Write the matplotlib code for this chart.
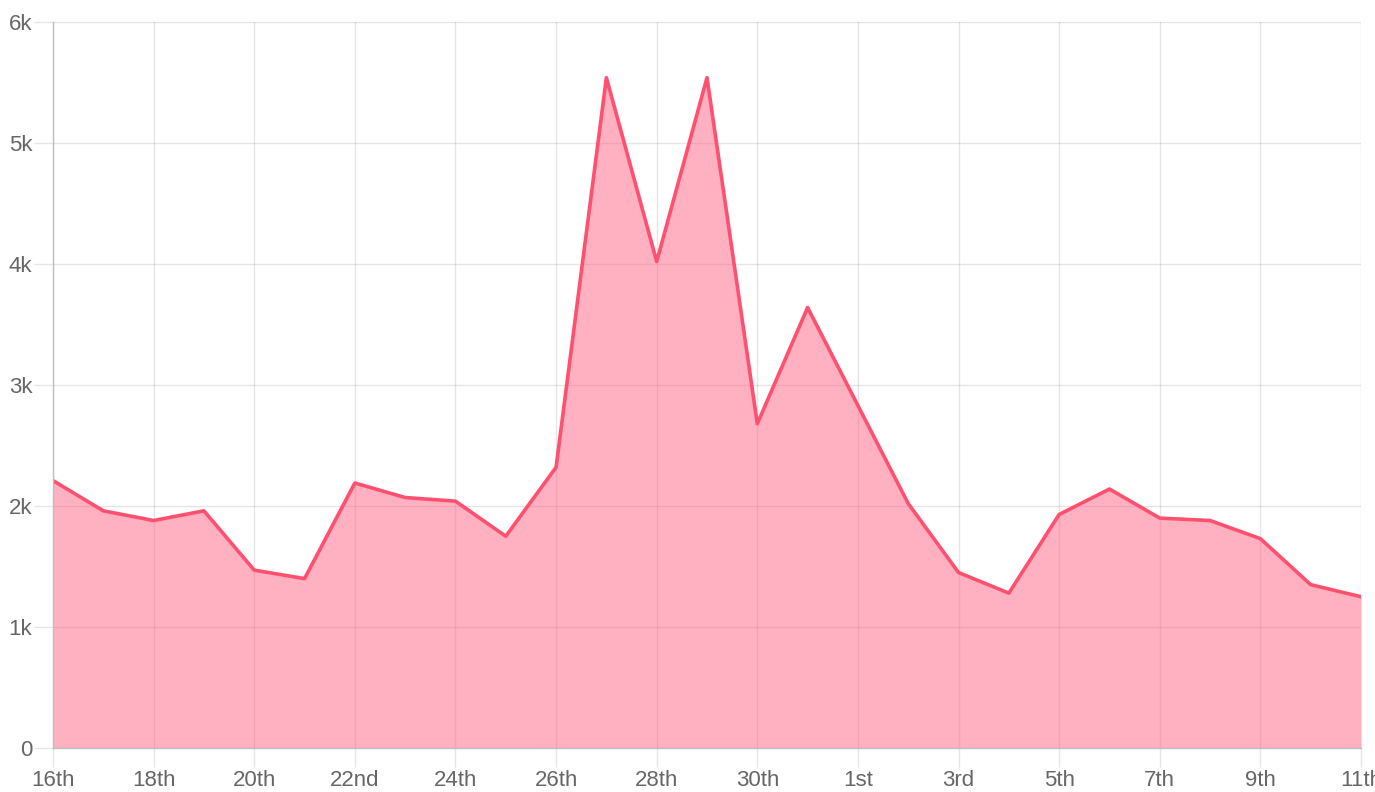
import numpy as np
import matplotlib.pyplot as plt

days = ['16th', '17th', '18th', '19th', '20th', '21st', '22nd', '23rd', '24th', '25th',
        '26th', '27th', '28th', '29th', '30th', '31st', '1st', '2nd', '3rd', '4th',
        '5th', '6th', '7th', '8th', '9th', '10th', '11th']
values = [2210, 1960, 1880, 1960, 1470, 1400, 2190, 2070, 2040, 1750,
          2320, 5540, 4020, 5540, 2680, 3640, 2830, 2020, 1450, 1280,
          1930, 2140, 1900, 1880, 1730, 1350, 1250]
ytick_vals = [0, 1000, 2000, 3000, 4000, 5000, 6000]
ytick_labels = ['0', '1k', '2k', '3k', '4k', '5k', '6k']

plt.rcParams['font.family'] = ['Liberation Sans', 'DejaVu Sans']

W, H = 1375, 792
fig = plt.figure(figsize=(W / 100, H / 100), dpi=100)
ax = fig.add_axes([53 / W, 44 / H, (1361 - 53) / W, (748 - 22) / H])

x = np.arange(len(days))
ax.fill_between(x, values, 0, color='#ff6384', alpha=0.5, linewidth=0, zorder=2)
ax.plot(x, values, color='#ff5070', linewidth=2.6, zorder=3)

ax.set_xlim(0, len(days) - 1)
ax.set_ylim(0, 6000)

ax.set_xticks(x[::2])
ax.set_xticklabels(days[::2])
ax.set_yticks(ytick_vals)
ax.set_yticklabels(ytick_labels)

ax.tick_params(axis='both', color='#e6e6e6', labelcolor='#666666', labelsize=16)
ax.tick_params(axis='y', length=14, width=1, pad=1)
ax.tick_params(axis='x', length=14, width=1, pad=2)
ax.grid(True, color='black', alpha=0.1, linewidth=1, zorder=1)
ax.set_axisbelow(True)

for side in ['top', 'right']:
    ax.spines[side].set_visible(False)
for side in ['left', 'bottom']:
    ax.spines[side].set_color('#bfbfbf')
    ax.spines[side].set_linewidth(1)
    ax.spines[side].set_zorder(4)

fig.savefig('out.png', dpi=100)
